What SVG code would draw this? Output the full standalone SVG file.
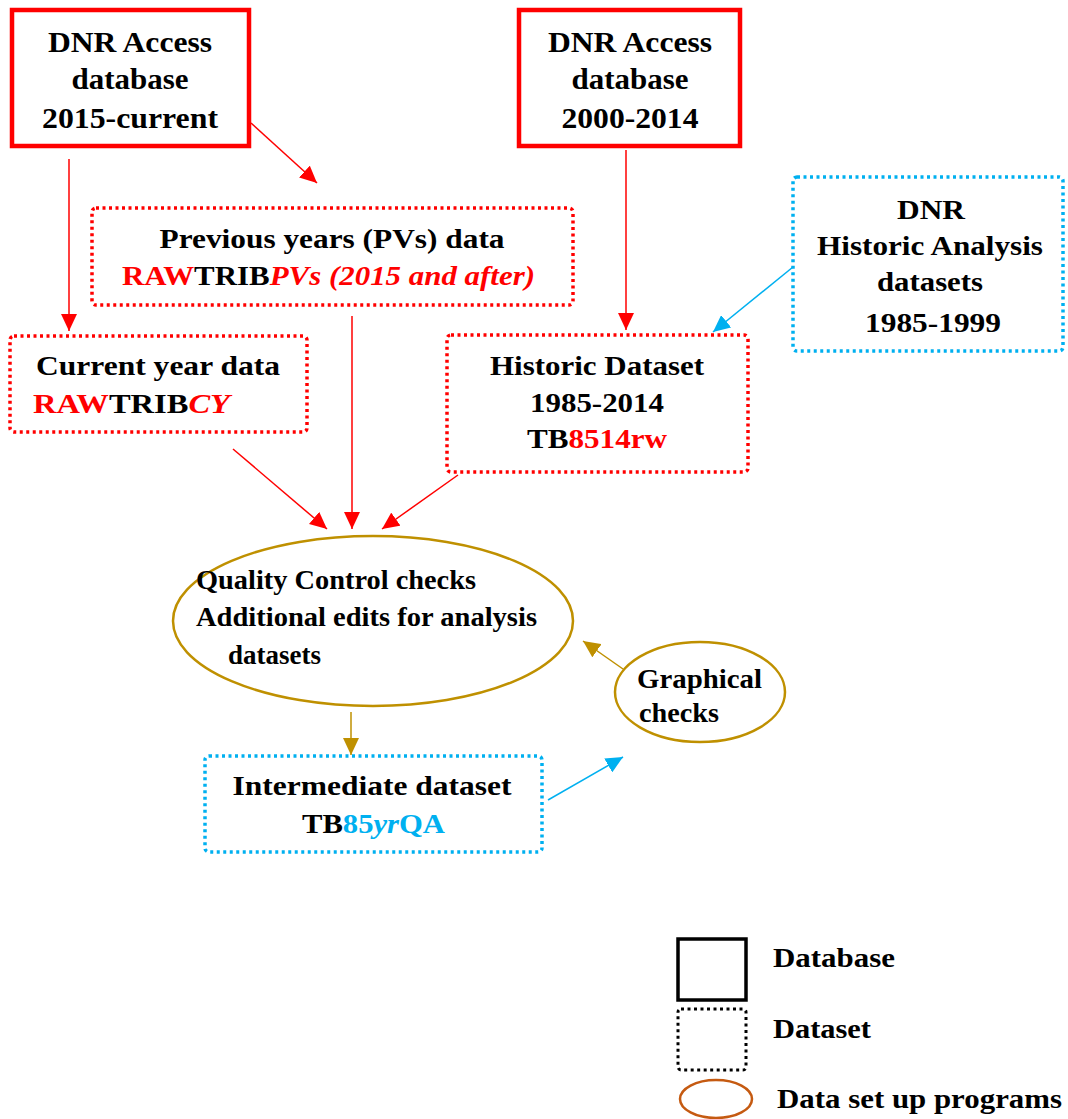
<svg xmlns="http://www.w3.org/2000/svg" width="1068" height="1119" viewBox="0 0 1068 1119" font-family="'Liberation Serif', 'DejaVu Serif', 'Times New Roman', serif">
<style>
text{font-family:"Liberation Serif","DejaVu Serif","Times New Roman",serif;font-weight:bold;font-size:28px;fill:#000}
.big{font-size:30px}
.c{text-anchor:middle}
.r{fill:#FF0000}
.b{fill:#00B0F0}
.i{font-style:italic}
.db{fill:#fff;stroke:#FF0000;stroke-width:4.5}
.dsr{fill:#fff;stroke:#FF0000;stroke-width:3.5;stroke-dasharray:3 3.5}
.dsb{fill:#fff;stroke:#00B0F0;stroke-width:3.5;stroke-dasharray:3 3.5}
.prog{fill:#fff;stroke:#BF9000;stroke-width:2.5}
.lr{stroke:#FF0000;stroke-width:1.5;fill:none}
.lb{stroke:#00B0F0;stroke-width:1.5;fill:none}
.lg{stroke:#BF9000;stroke-width:1.5;fill:none}
</style>
<defs>
<marker id="ar" markerUnits="userSpaceOnUse" markerWidth="18" markerHeight="16" refX="17" refY="8" orient="auto"><path d="M0,0 L17,8 L0,16 Z" fill="#FF0000"/></marker>
<marker id="ab" markerUnits="userSpaceOnUse" markerWidth="18" markerHeight="16" refX="17" refY="8" orient="auto"><path d="M0,0 L17,8 L0,16 Z" fill="#00B0F0"/></marker>
<marker id="ag" markerUnits="userSpaceOnUse" markerWidth="18" markerHeight="16" refX="17" refY="8" orient="auto"><path d="M0,0 L17,8 L0,16 Z" fill="#BF9000"/></marker>
</defs>

<g id="connectors">
<line class="lr" x1="251" y1="123" x2="317" y2="183" marker-end="url(#ar)"/>
<line class="lr" x1="69" y1="159" x2="69" y2="331" marker-end="url(#ar)"/>
<line class="lr" x1="626" y1="150" x2="626" y2="330" marker-end="url(#ar)"/>
<line class="lr" x1="352" y1="316" x2="352" y2="529" marker-end="url(#ar)"/>
<line class="lr" x1="233" y1="449" x2="327" y2="529" marker-end="url(#ar)"/>
<line class="lr" x1="458" y1="475" x2="382" y2="529" marker-end="url(#ar)"/>
<line class="lb" x1="793" y1="267" x2="713" y2="332" marker-end="url(#ab)"/>
<line class="lg" x1="351" y1="712" x2="351" y2="755" marker-end="url(#ag)"/>
<line class="lg" x1="623" y1="669" x2="583" y2="641" marker-end="url(#ag)"/>
<line class="lb" x1="548" y1="800" x2="623" y2="757" marker-end="url(#ab)"/>
</g>

<g id="db2015">
<rect class="db" x="12" y="10" width="237" height="136"/>
<text class="big c" x="130" y="52" textLength="164" lengthAdjust="spacingAndGlyphs">DNR Access</text>
<text class="big c" x="130" y="89" textLength="117" lengthAdjust="spacingAndGlyphs">database</text>
<text class="big c" x="130" y="128" textLength="176" lengthAdjust="spacingAndGlyphs">2015-current</text>
</g>

<g id="db2000">
<rect class="db" x="519" y="10" width="221" height="136"/>
<text class="big c" x="630" y="52" textLength="164" lengthAdjust="spacingAndGlyphs">DNR Access</text>
<text class="big c" x="630" y="89" textLength="117" lengthAdjust="spacingAndGlyphs">database</text>
<text class="big c" x="630" y="128" textLength="137" lengthAdjust="spacingAndGlyphs">2000-2014</text>
</g>

<g id="pvs">
<rect class="dsr" x="92" y="208" width="481" height="97" rx="4"/>
<text class="c" x="332" y="248" textLength="345" lengthAdjust="spacingAndGlyphs">Previous years (PVs) data</text>
<text x="122" y="285" textLength="413" lengthAdjust="spacingAndGlyphs"><tspan class="r">RAW</tspan>TRIB<tspan class="r i">PVs (2015 and after)</tspan></text>
</g>

<g id="cy">
<rect class="dsr" x="10" y="336" width="297" height="96" rx="4"/>
<text x="36" y="375" textLength="244" lengthAdjust="spacingAndGlyphs">Current year data</text>
<text x="33" y="413" textLength="197" lengthAdjust="spacingAndGlyphs"><tspan class="r">RAW</tspan>TRIB<tspan class="r i">CY</tspan></text>
</g>

<g id="historic">
<rect class="dsr" x="447" y="335" width="301" height="137" rx="4"/>
<text class="c" x="597" y="375" textLength="214" lengthAdjust="spacingAndGlyphs">Historic Dataset</text>
<text class="c" x="597" y="412" textLength="134" lengthAdjust="spacingAndGlyphs">1985-2014</text>
<text class="c" x="597" y="448" textLength="140" lengthAdjust="spacingAndGlyphs">TB<tspan class="r">8514rw</tspan></text>
</g>

<g id="dnrhist">
<rect class="dsb" x="793" y="177" width="270" height="174" rx="4"/>
<text class="c" x="931" y="219" textLength="68" lengthAdjust="spacingAndGlyphs">DNR</text>
<text class="c" x="930" y="255" textLength="226" lengthAdjust="spacingAndGlyphs">Historic Analysis</text>
<text class="c" x="930" y="291" textLength="106" lengthAdjust="spacingAndGlyphs">datasets</text>
<text class="c" x="933" y="332" textLength="136" lengthAdjust="spacingAndGlyphs">1985-1999</text>
</g>

<g id="qc">
<ellipse class="prog" cx="373" cy="621" rx="200" ry="85"/>
<text x="196" y="589" textLength="280" lengthAdjust="spacingAndGlyphs">Quality Control checks</text>
<text x="196" y="626" textLength="341" lengthAdjust="spacingAndGlyphs">Additional edits for analysis</text>
<text x="228" y="664" textLength="93" lengthAdjust="spacingAndGlyphs">datasets</text>
</g>

<g id="graphical">
<ellipse class="prog" cx="700" cy="692" rx="85" ry="50"/>
<text x="637" y="688" textLength="125" lengthAdjust="spacingAndGlyphs">Graphical</text>
<text x="639" y="722" textLength="80" lengthAdjust="spacingAndGlyphs">checks</text>
</g>

<g id="intermediate">
<rect class="dsb" x="205" y="756" width="337" height="96" rx="4"/>
<text class="c" x="372" y="795" textLength="279" lengthAdjust="spacingAndGlyphs">Intermediate dataset</text>
<text x="302" y="833" textLength="143" lengthAdjust="spacingAndGlyphs">TB<tspan class="b">85</tspan><tspan class="b i">yr</tspan><tspan class="b">QA</tspan></text>
</g>

<g id="legend">
<rect x="678" y="939" width="68" height="61" fill="#fff" stroke="#000" stroke-width="3.5"/>
<text x="773" y="967" textLength="122" lengthAdjust="spacingAndGlyphs">Database</text>
<rect x="678" y="1009" width="68" height="61" rx="3" fill="#fff" stroke="#000" stroke-width="3" stroke-dasharray="3 3.5"/>
<text x="773" y="1038" textLength="98" lengthAdjust="spacingAndGlyphs">Dataset</text>
<ellipse cx="716" cy="1099" rx="36" ry="19" fill="#fff" stroke="#C55A11" stroke-width="2.5"/>
<text x="777" y="1108" textLength="285" lengthAdjust="spacingAndGlyphs">Data set up programs</text>
</g>
</svg>
